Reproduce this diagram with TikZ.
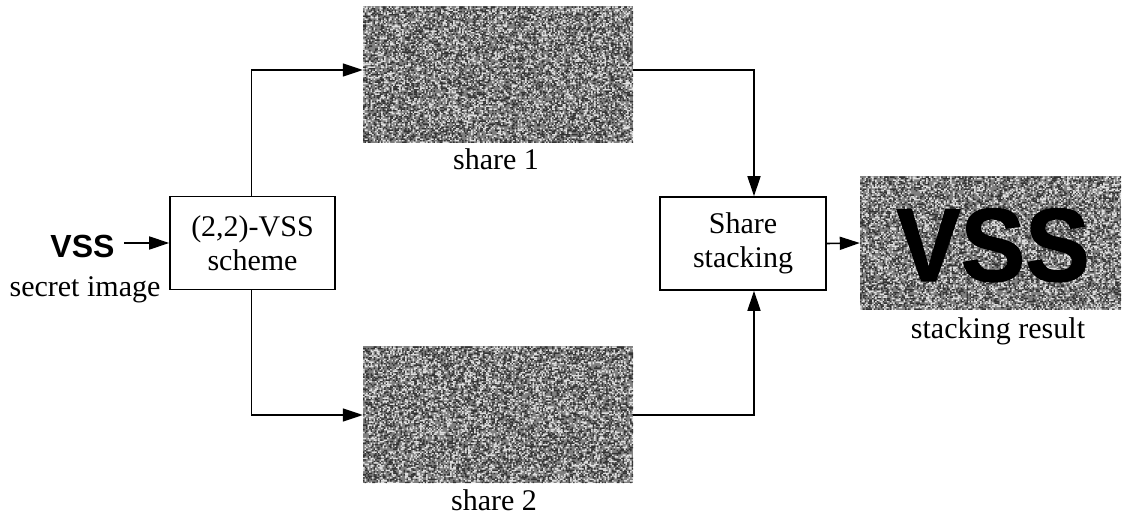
\documentclass[tikz,border=0pt]{standalone}
\usepackage{fontspec}
\setmainfont{Liberation Serif}
\newfontfamily\headfont{Liberation Sans}
\newfontfamily\heavyfont[FakeBold=1.2]{Liberation Sans Bold}
\usetikzlibrary{arrows.meta}

% one 1.5pt cell of a noise field
\protected\def\nzcell#1#2{\pgfpathrectangle{\pgfqpoint{#1}{#2}}{\pgfqpoint{1.5pt}{1.5pt}}}
\newcommand\nzx[2]{\the\dimexpr#1pt+#2\dimexpr1.5pt\relax\relax}

% random pixel field: lower-left corner #1,#2 (pt), #3 columns, #4 rows of 1.5pt cells
\newcommand\noisefield[4]{%
  \begin{pgfscope}
    \pgfsetfillcolor{gray}%
    \pgfpathrectangle{\pgfqpoint{#1pt}{#2pt}}{\pgfpoint{#3*1.5pt}{#4*1.5pt}}%
    \pgfusepath{fill}%
  \end{pgfscope}
  \foreach \j in {0,...,\numexpr#4-1\relax}{%
    \gdef\blkrow{}\gdef\whtrow{}%
    \foreach \i in {0,...,\numexpr#3-1\relax}{%
      \pgfmathrandominteger{\rnd}{1}{20}%
      \ifnum\rnd<7
        \xdef\blkrow{\blkrow\nzcell{\nzx{#1}{\i}}{\nzx{#2}{\j}}}%
      \fi
      \ifnum\rnd>15
        \xdef\whtrow{\whtrow\nzcell{\nzx{#1}{\i}}{\nzx{#2}{\j}}}%
      \fi
    }%
    \begin{pgfscope}\pgfsetfillcolor{darkpix}\blkrow\pgfusepath{fill}\end{pgfscope}%
    \begin{pgfscope}\pgfsetfillcolor{lightpix}\whtrow\pgfusepath{fill}\end{pgfscope}%
  }%
}

\colorlet{darkpix}{black!80}
\colorlet{lightpix}{white!88!black}

\tikzset{
  proc/.style={draw, line width=1.6pt, align=center, inner sep=0pt,
    font=\fontsize{30}{34}\selectfont},
  img/.style={inner sep=0pt, draw=none},
  caption/.style={anchor=base, inner sep=0pt, font=\fontsize{30}{34}\selectfont},
  flow/.style={line width=1.6pt, -{Triangle[length=20pt,width=13pt]}},
}

\begin{document}
\begin{tikzpicture}[x=1pt,y=1pt]
\useasboundingbox (0,0) rectangle (1122,517);
\pgfmathsetseed{4711}

% share images and stacked result
\noisefield{363}{374}{180}{91}
\noisefield{363}{34}{180}{91}
\noisefield{860}{207}{174}{89}
\node[img, minimum width=270pt, minimum height=136pt] (share1) at (498,442) {};
\node[img, minimum width=270pt, minimum height=136pt] (share2) at (498,102) {};
\node[img, minimum width=260pt, minimum height=134pt] (result) at (990,274) {};
\node[anchor=base, inner sep=0pt, font=\heavyfont\fontsize{104}{104}\selectfont]
  (resulttext) at (993,236) {\scalebox{0.93}[1]{VSS}};

% processing boxes
\node[proc, minimum width=165pt, minimum height=93pt] (scheme) at (252.5,274)
  {(2,2)-VSS\\scheme};
\node[proc, minimum width=166pt, minimum height=93pt] (stack) at (743,273.5)
  {Share\\stacking};

% secret image
\node[anchor=base, inner sep=0pt, font=\headfont\bfseries\fontsize{32}{32}\selectfont]
  (secret) at (82.5,259) {VSS};

% captions
\node[caption] (cap0) at (85,220) {secret image};
\node[caption] (cap1) at (496,347) {share 1};
\node[caption] (cap2) at (494,7) {share 2};
\node[caption] (cap3) at (998,178) {stacking result};

% connectors
\coordinate (secretend) at (124,274);
\draw[flow] (secretend) -- (scheme.west);
\draw[flow] ([xshift=-1pt]scheme.north) |- ([yshift=5pt]share1.west);
\draw[flow] ([xshift=-1pt]scheme.south) |- (share2.west);
\draw[flow] ([yshift=5pt]share1.east) -| ([xshift=11pt]stack.north);
\draw[flow] (share2.east) -| ([xshift=11pt]stack.south);
\draw[flow] (stack.east) -- (result.west);
\end{tikzpicture}
\end{document}
